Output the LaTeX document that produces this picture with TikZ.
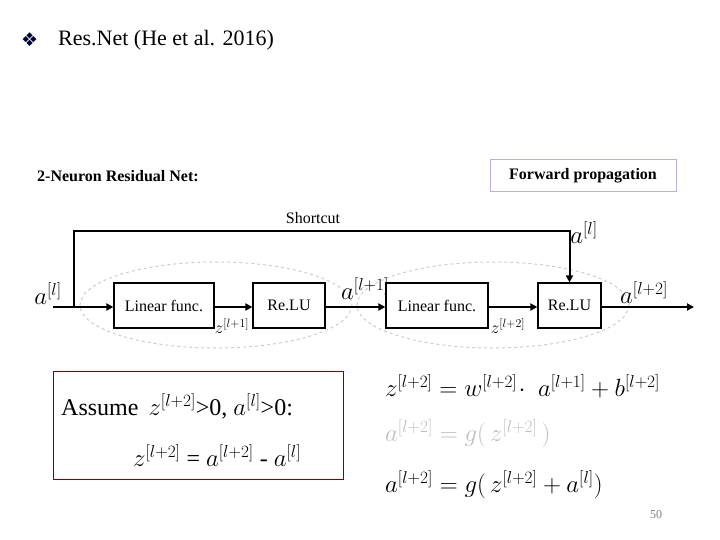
\documentclass[tikz,border=0pt]{standalone}
\usepackage{fontspec}
\setmainfont{Liberation Serif}
\newfontfamily\dejavu{DejaVu Sans}
\usetikzlibrary{arrows.meta}
\begin{document}
\begin{tikzpicture}[x=1pt,y=-1pt,
  blk/.style={draw,line width=1.2pt,minimum height=45pt,inner sep=0pt,font=\fontsize{16}{16}\selectfont},
  arr/.style={line width=2pt,-{Triangle[length=7pt,width=7pt]}},
  ell/.style={draw=black!20,dashed,line width=1pt},
  lab/.style={inner sep=0pt,font=\fontsize{24}{24}\selectfont},
  sm/.style={inner sep=0pt,font=\fontsize{17}{17}\selectfont},
  eq/.style={inner sep=0pt,anchor=west,font=\fontsize{24}{24}\selectfont}]
\useasboundingbox (0,0) rectangle (720,540);
\node[anchor=west,inner sep=0pt,text=black!80!blue] (bul) at (21,40) {\dejavu\fontsize{19}{19}\selectfont ❖};
\node[anchor=west,inner sep=0pt,font=\fontsize{22}{22}\selectfont] (title) at (58,40) {Res.Net (He et al. 2016)};
\node[anchor=west,inner sep=0pt,font=\fontsize{16}{16}\selectfont\bfseries] (sub) at (37,176) {2-Neuron Residual Net:};
\node[draw=black!35!blue!30,line width=1pt,minimum width=186pt,minimum height=32pt,font=\fontsize{16}{16}\selectfont\bfseries] (fp) at (583,176) {Forward propagation};
\draw[ell] (216,305) ellipse [x radius=136,y radius=43];
\draw[ell] (493,305) ellipse [x radius=136,y radius=43];
\node[blk,minimum width=100pt] (l1) at (164,305.5) {Linear func.};
\node[blk,minimum width=72pt] (r1) at (289,305.5) {Re.LU};
\node[blk,minimum width=102pt] (l2) at (437,305.5) {Linear func.};
\node[blk,minimum width=63pt] (r2) at (569.5,305.5) {Re.LU};
\coordinate (in) at (53,307);
\coordinate (out) at (694,307);
\coordinate (sp) at (74,307);
\coordinate (c1) at (74,231);
\coordinate (c2) at (569.5,231);
\draw[arr] (in) -- (l1.west |- in);
\draw[arr] (l1.east |- in) -- (r1.west |- in);
\draw[arr] (r1.east |- in) -- (l2.west |- in);
\draw[arr] (l2.east |- in) -- (r2.west |- in);
\draw[arr] (r2.east |- in) -- (out);
\draw[arr] (sp) -- (c1) -- (c2) -- (r2.north);
\node[inner sep=0pt,font=\fontsize{16}{16}\selectfont] (sc) at (313,218) {Shortcut};
\node[lab] (a0) at (48,294) {$a^{[l]}$};
\node[lab] (a0r) at (584,233) {$a^{[l]}$};
\node[lab] (a1) at (365,289) {$a^{[l+1]}$};
\node[lab] (a2) at (644,293) {$a^{[l+2]}$};
\node[sm] (z1) at (232,326) {$z^{[l+1]}$};
\node[sm] (z2) at (508,326) {$z^{[l+2]}$};
\node[draw=red!50!black,line width=1pt,minimum width=290pt,minimum height=108pt] (box) at (198,425) {};
\node[eq] (as) at (61,406) {Assume\, $z^{[l+2]}$>0, $a^{[l]}$>0:};
\node[eq] (e0) at (133,456) {$z^{[l+2]}$ = $a^{[l+2]}$ - $a^{[l]}$};
\node[eq] (e1) at (385,386) {$z^{[l+2]} = w^{[l+2]}\!\cdot\; a^{[l+1]} + b^{[l+2]}$};
\node[eq,text=black!25] (e2) at (385,434) {$a^{[l+2]} = g(\,z^{[l+2]}\,)$};
\node[eq] (e3) at (385,485) {$a^{[l+2]} = g(\,z^{[l+2]} + a^{[l]})$};
\node[inner sep=0pt,text=black!50,font=\fontsize{12}{12}\selectfont] (pg) at (656,515) {50};
\end{tikzpicture}
\end{document}
